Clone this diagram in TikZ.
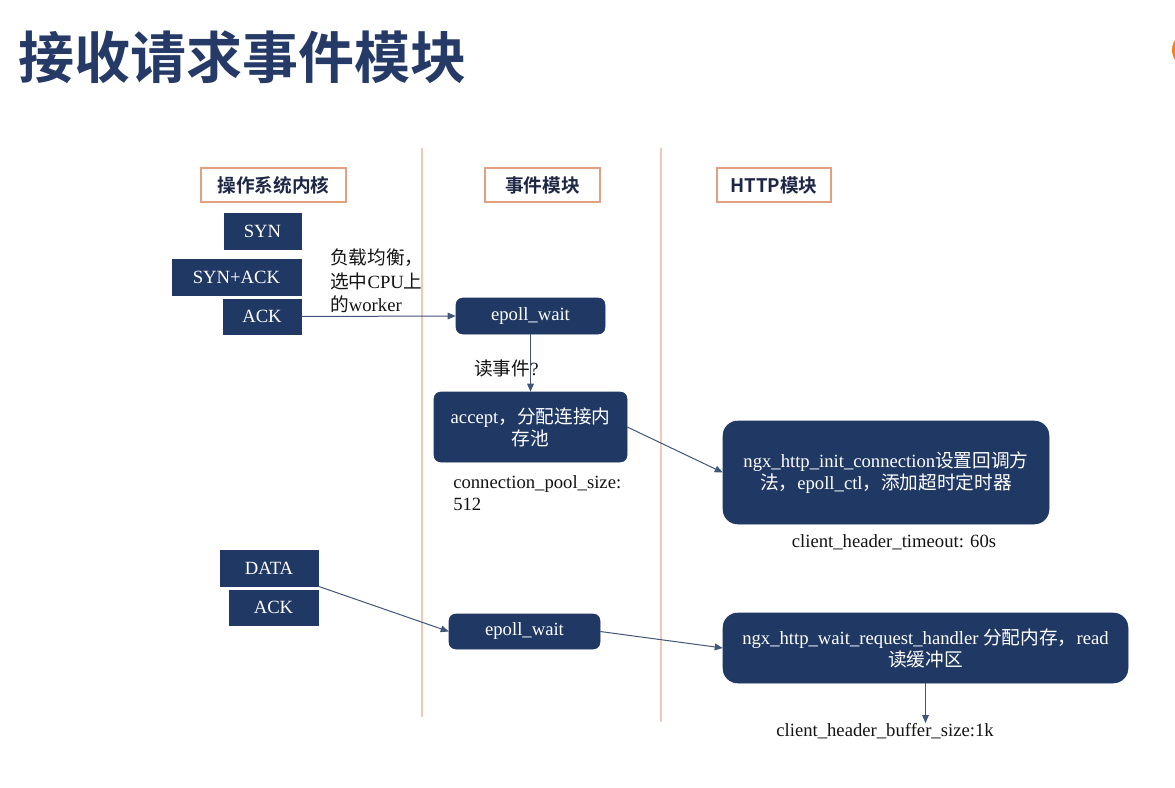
\documentclass[tikz,border=0pt]{standalone}
\usepackage{fontspec}
\setmainfont{Liberation Serif}
\newfontfamily\cjk[BoldFont={Noto Sans CJK SC Bold}]{Noto Sans CJK SC}
\usetikzlibrary{arrows.meta}
\definecolor{navy}{RGB}{32,56,100}
\definecolor{titleblue}{RGB}{38,58,104}
\definecolor{hdr}{RGB}{226,160,128}
\definecolor{vline}{RGB}{240,200,180}
\definecolor{hdrtext}{RGB}{30,40,70}
\definecolor{lbl}{RGB}{20,20,20}
\definecolor{accent}{RGB}{240,130,40}
\newcommand{\zh}[1]{{\cjk #1}}
\begin{document}
\begin{tikzpicture}[x=0.75pt,y=-0.75pt,
  nb/.style={draw=navy, fill=navy, text=white, inner sep=0pt, align=center,
    font=\fontsize{14}{16.5}\selectfont},
  rb/.style={nb, rounded corners=5pt},
  rbig/.style={nb, rounded corners=11pt},
  hb/.style={draw=hdr, line width=0.9pt, fill=white, inner sep=0pt,
    minimum height=25.5pt, text=hdrtext, font=\cjk\bfseries\fontsize{14}{16}\selectfont},
  lab/.style={inner sep=0pt, text=lbl, align=left, font=\fontsize{14}{16.5}\selectfont},
  sep/.style={draw=vline, line width=0.9pt},
  conn/.style={draw=navy!85, line width=0.75pt, -{Triangle[length=6pt,width=5pt]}}
]
\useasboundingbox (0,0) rectangle (1175,788);
\fill[white] (0,0) rectangle (1175,788);
\fill[accent] (1190.2,50) circle (18.2);

% title
\node[anchor=west, inner sep=0pt, text=titleblue,
  font=\cjk\bfseries\fontsize{42}{42}\selectfont] (title) at (18,57) {接收请求事件模块};

% separators
\draw[sep] (422,148) -- (422,717);
\draw[sep] (661,148) -- (661,722);

% headers
\node[hb, minimum width=108.75pt] (h1) at (273.5,185) {操作系统内核};
\node[hb, minimum width=86.25pt] (h2) at (542.5,185) {事件模块};
\node[hb, minimum width=85.5pt] (h3) at (774,185) {HTTP模块};

% kernel boxes
\node[nb, minimum width=57.75pt, minimum height=27pt] (syn) at (262.5,231) {SYN};
\node[nb, minimum width=96.75pt, minimum height=27pt] (synack) at (236.5,277) {SYN+ACK};
\node[nb, minimum width=58.5pt, minimum height=26.25pt] (ack1) at (262,316.5) {ACK};
\node[nb, minimum width=73.5pt, minimum height=27pt] (data) at (269,568) {DATA};
\node[nb, minimum width=66.75pt, minimum height=26.25pt] (ack2) at (273.5,607.5) {ACK};

% event boxes
\node[rb, minimum width=111.75pt, minimum height=27pt] (ew1) at (530.5,316) {epoll\_wait};
\node[rb, minimum width=144.75pt, minimum height=52.5pt] (acc) at (530.5,427) {accept\zh{，分配连接内}\\\zh{存池}};
\node[rb, minimum width=113.25pt, minimum height=26.25pt] (ew2) at (524.5,631.5) {epoll\_wait};

% http boxes
\node[rbig, minimum width=244.5pt, minimum height=77.25pt] (ni) at (886,472.5) {ngx\_http\_init\_connection\zh{设置回调方}\\\zh{法，}epoll\_ctl\zh{，添加超时定时器}};
\node[rbig, minimum width=303.75pt, minimum height=52.5pt] (nw) at (925.5,648) {ngx\_http\_wait\_request\_handler \zh{分配内存，}read\\\zh{读缓冲区}};

% labels
\node[lab, anchor=north west] (lb) at (330,249) {\zh{负载均衡，}\\[1pt]\zh{选中}CPU\zh{上}\\[1pt]\zh{的}worker};
\node[lab, anchor=west] (rd) at (474,368) {\zh{读事件}?};
\node[lab, anchor=north west] (cps) at (453,475) {connection\_pool\_size:\\512};
\node[lab] (cht) at (894,542) {client\_header\_timeout: 60s};
\node[lab] (chb) at (885,731) {client\_header\_buffer\_size:1k};
\coordinate (bufend) at (925.5,723);

% connectors
\draw[conn] (ack1.east) -- (ew1.west);
\draw[conn] (ew1.south) -- (acc.north);
\draw[conn] (acc.east) -- (ni.west);
\draw[conn] (data.south east) -- (ew2.west);
\draw[conn] (ew2.east) -- (nw.west);
\draw[conn] (nw.south) -- (bufend);
\end{tikzpicture}
\end{document}
